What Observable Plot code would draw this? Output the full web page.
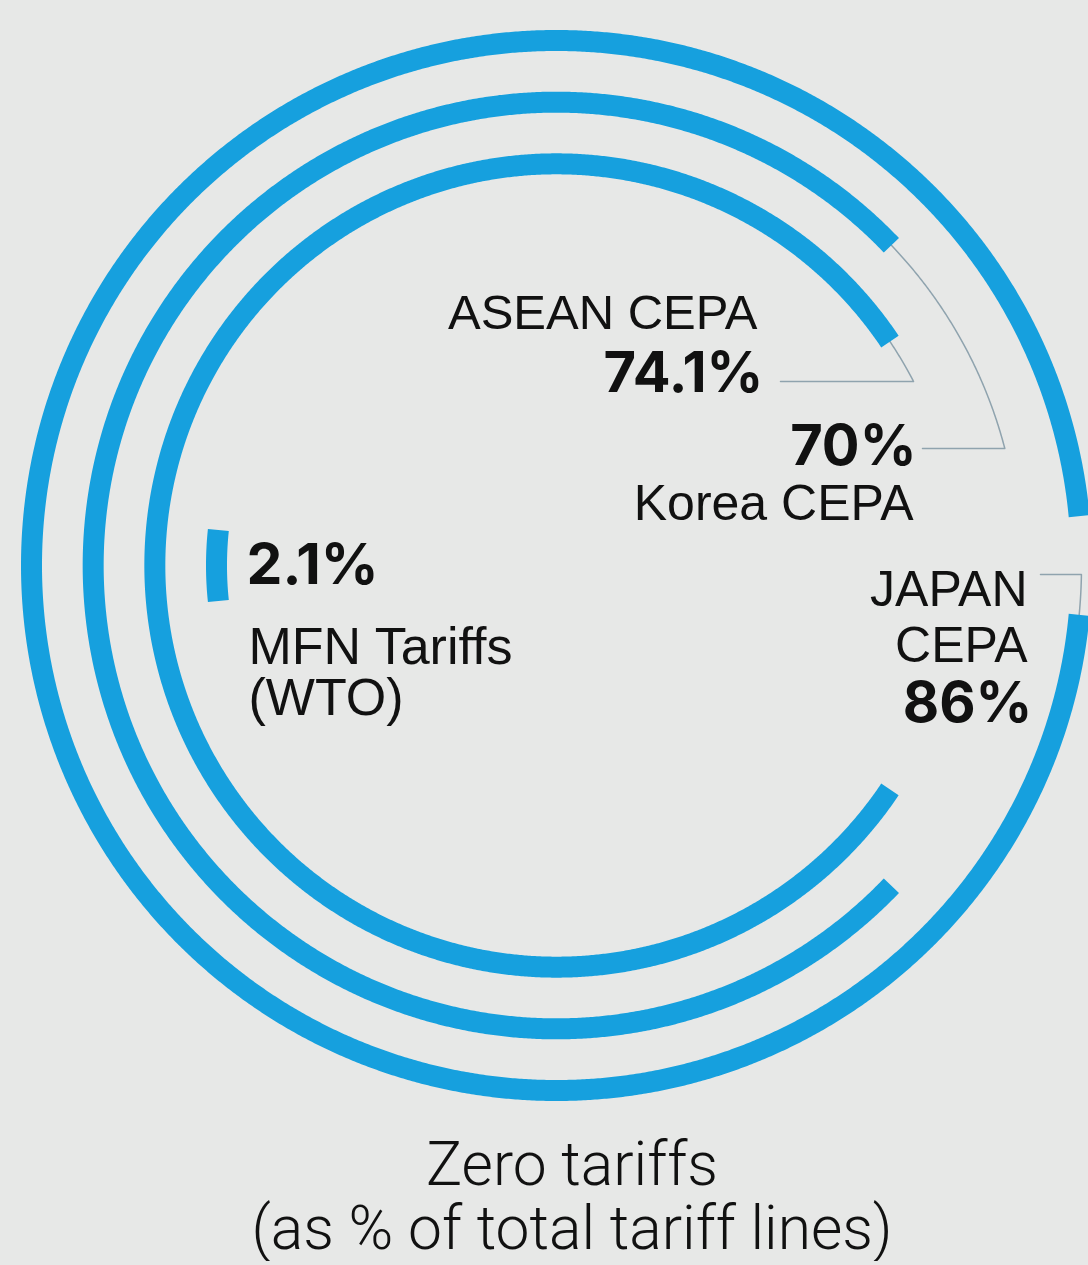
<!DOCTYPE html>
<html>
<head>
<meta charset="utf-8">
<script src="https://cdn.jsdelivr.net/npm/d3@7"></script>
<script src="https://cdn.jsdelivr.net/npm/@observablehq/plot@0.6"></script>
<style>
  html, body { margin: 0; padding: 0; background: #e7e8e7; }
  #chart svg { display: block; }
  .caption {
    font-family: Roboto, "Noto Sans", sans-serif; font-weight: 300;
    font-size: 60.5px; line-height: 64px; color: #111; text-align: center;
    width: 1088px; padding-left: 56px; padding-top: 0px; box-sizing: border-box;
  }
</style>
</head>
<body>
<div id="chart"></div>
<div class="caption" id="caption"></div>
<script>
// ---------------- data ----------------
const agreements     = ["JAPAN CEPA", "Korea CEPA", "ASEAN CEPA", "MFN Tariffs (WTO)"];
const agreementLines = [["JAPAN", "CEPA"], ["Korea CEPA"], ["ASEAN CEPA"], ["MFN Tariffs", "(WTO)"]];
const zeroTariffPct  = [86, 70, 74.1, 2.1];
const pctLabels      = ["86%", "70%", "74.1%", "2.1%"];
const captionLines   = ["Zero tariffs", "(as % of total tariff lines)"];

// ---------------- layout ----------------
const W = 1088, H = 1133, CX = 556, CY = 565;
const BLUE = "#16a0de", LEADER = "#8fa3ae", INK = "#111";
const RING_W = 21;
const ringRadius = d3.scalePoint().domain(agreements).range([525, 340]);
// the graphic's own angular scale (arcs centred on 9 o'clock); tiny values get a visible stub
const sweep = d3.scaleLinear().domain([13.1, 88.25]).range([0, 360]);
const MIN_SWEEP = 12;
const deg = Math.PI / 180;

const rings = agreements.map((name, i) => ({
  name,
  r: ringRadius(name),
  half: Math.max(MIN_SWEEP, sweep(zeroTariffPct[i])) / 2
}));

function arcPts(name, r, a0, a1, step = 0.25) {
  const n = Math.max(2, Math.ceil(Math.abs(a1 - a0) / step) + 1);
  return d3.range(n).map(k => {
    const a = (a0 + (a1 - a0) * k / (n - 1)) * deg;
    return {name, x: r * Math.cos(a), y: r * Math.sin(a)};
  });
}

const ringPts = rings.flatMap(d => arcPts(d.name, d.r, 180 - d.half, 180 + d.half));

// leader lines: follow the ring from its end, then run horizontally to the label
const leaderLayout = [
  {i: 0, end: "bottom", py: 574, px: 1040},
  {i: 1, end: "top",    py: 448, px: 922},
  {i: 2, end: "top",    py: 381, px: 780}
];
const leaderPts = leaderLayout.flatMap(({i, end, py, px}) => {
  const d = rings[i];
  const a0 = end === "top" ? 180 - d.half : d.half - 180;
  const yv = CY - py;
  const a1 = Math.asin(yv / d.r) / deg;
  const pts = arcPts(d.name, d.r, a0, a1);
  pts.push({name: d.name, x: px - CX, y: yv});
  return pts;
});

// labels (pixel anchor = baseline of last line; text comes from the arrays)
const REG = "'Liberation Sans', Arial, sans-serif";
const BOLD = "Inter, 'Liberation Sans', Arial, sans-serif";
const labels = [
  {text: agreementLines[0].join("\n"), px: 1027, py: 661, anchor: "end",   size: 50, lh: 1.12, font: REG,  weight: 400},
  {text: pctLabels[0],                 px: 1032, py: 721, anchor: "end",   size: 56, lh: 1,    font: BOLD, weight: 700},
  {text: pctLabels[1],                 px: 916,  py: 464, anchor: "end",   size: 56, lh: 1,    font: BOLD, weight: 700},
  {text: agreementLines[1].join("\n"), px: 913,  py: 519, anchor: "end",   size: 50, lh: 1,    font: REG,  weight: 400},
  {text: agreementLines[2].join("\n"), px: 757,  py: 328, anchor: "end",   size: 49, lh: 1,    font: REG,  weight: 400},
  {text: pctLabels[2],                 px: 763,  py: 391, anchor: "end",   size: 56, lh: 1,    font: BOLD, weight: 700},
  {text: pctLabels[3],                 px: 246,  py: 583, anchor: "start", size: 57, lh: 1,    font: BOLD, weight: 700},
  {text: agreementLines[3].join("\n"), px: 248,  py: 714, anchor: "start", size: 52, lh: 0.98, font: REG,  weight: 400}
].map(d => ({...d, x: d.px - CX, y: CY - d.py}));

const labelMarks = labels.map(d => Plot.text([d], {
  x: "x", y: "y", text: "text",
  fontSize: d.size,
  textAnchor: d.anchor,
  lineAnchor: "bottom",
  lineHeight: d.lh,
  fontFamily: d.font,
  fontWeight: d.weight,
  fill: INK
}));

const chart = Plot.plot({
  width: W, height: H, margin: 0,
  x: {domain: [-CX, W - CX], axis: null},
  y: {domain: [CY - H, CY], axis: null},
  style: {background: "transparent", overflow: "visible"},
  marks: [
    Plot.line(leaderPts, {x: "x", y: "y", z: "name", stroke: LEADER, strokeWidth: 1.5, curve: "linear"}),
    Plot.line(ringPts, {x: "x", y: "y", z: "name", stroke: BLUE, strokeWidth: RING_W, strokeLinecap: "butt", strokeLinejoin: "round", curve: "linear"}),
    ...labelMarks
  ]
});
document.getElementById("chart").append(chart);
document.getElementById("caption").innerHTML = captionLines.join("<br>");
</script>
</body>
</html>
